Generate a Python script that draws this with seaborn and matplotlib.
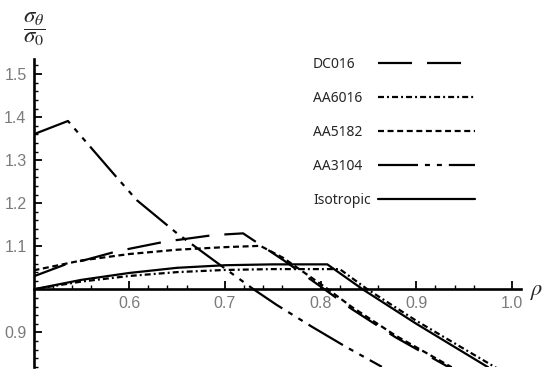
import numpy as np
import pandas as pd
import matplotlib
matplotlib.use("Agg")
import matplotlib.pyplot as plt
from matplotlib.lines import Line2D
from matplotlib.ticker import FixedLocator
import seaborn as sns

# ---------------- data ----------------
materials = ["DC016", "AA6016", "AA5182", "AA3104", "Isotropic"]

rho_dc016 = [0.5, 0.536, 0.552, 0.585, 0.602, 0.638, 0.655, 0.688, 0.719, 0.761, 0.806, 0.832, 0.878, 0.934]
sig_dc016 = [1.030, 1.060, 1.067, 1.087, 1.095, 1.111, 1.116, 1.126, 1.130, 1.068, 0.997, 0.955, 0.889, 0.819]

rho_aa6016 = [0.5, 0.55, 0.6, 0.65, 0.7, 0.75, 0.82, 0.849, 0.9, 0.984]
sig_aa6016 = [1.0, 1.018, 1.031, 1.040, 1.045, 1.047, 1.047, 1.0, 0.927, 0.817]

rho_aa5182 = [0.5, 0.55, 0.6, 0.65, 0.7, 0.737, 0.761, 0.806, 0.832, 0.878, 0.937]
sig_aa5182 = [1.044, 1.067, 1.082, 1.092, 1.098, 1.101, 1.073, 1.003, 0.960, 0.893, 0.819]

rho_aa3104 = [0.5, 0.536, 0.585, 0.608, 0.650, 0.688, 0.730, 0.754, 0.791, 0.826, 0.864]
sig_aa3104 = [1.360, 1.391, 1.265, 1.207, 1.130, 1.068, 1.0, 0.964, 0.913, 0.867, 0.820]

rho_iso = [0.5, 0.55, 0.6, 0.65, 0.7, 0.75, 0.807, 0.844, 0.9, 0.975]
sig_iso = [1.0, 1.022, 1.038, 1.050, 1.056, 1.058, 1.058, 1.0, 0.920, 0.819]

x_major = [0.6, 0.7, 0.8, 0.9, 1.0]
y_major = [0.9, 1.1, 1.2, 1.3, 1.4, 1.5]

series = {
    "DC016": (rho_dc016, sig_dc016),
    "AA6016": (rho_aa6016, sig_aa6016),
    "AA5182": (rho_aa5182, sig_aa5182),
    "AA3104": (rho_aa3104, sig_aa3104),
    "Isotropic": (rho_iso, sig_iso),
}
frames = []
for name in materials:
    r, s = series[name]
    frames.append(pd.DataFrame({"rho": r, "ratio": s, "material": name}))
df = pd.concat(frames, ignore_index=True)

# dash patterns in points (not scaled by linewidth)
dash_map = {
    "DC016": (24.5, 10.8),
    "AA6016": (4.3, 2.2, 1.4, 2.2),
    "AA5182": (4.3, 2.6),
    "AA3104": (28.8, 5.0, 3.6, 5.0, 3.6, 5.0),
    "Isotropic": "",
}

# ---------------- style ----------------
sns.set_style("white")
plt.rcParams["lines.scale_dashes"] = False
plt.rcParams["font.family"] = ["Liberation Sans", "DejaVu Sans"]
plt.rcParams["mathtext.fontset"] = "stix"

fig = plt.figure(figsize=(5.5, 3.78), dpi=100)
ax = fig.add_axes([33.5 / 550, 11 / 378, (521 - 33.5) / 550, (367 - 59) / 378])

LW = 1.6
sns.lineplot(data=df, x="rho", y="ratio", style="material", style_order=materials,
             dashes=dash_map, color="black", linewidth=LW, sort=False,
             estimator=None, legend=False, ax=ax)

ax.set_xlim(0.5, 1.0094)
ax.set_ylim(0.8196, 1.535)

# Mathematica-like axes crossing at (0.5, 1.0)
for side in ["top", "right"]:
    ax.spines[side].set_visible(False)
ax.spines["bottom"].set_position(("data", 1.0))
ax.spines["left"].set_position(("data", 0.5))
for side in ["bottom", "left"]:
    ax.spines[side].set_linewidth(1.9)
    ax.spines[side].set_color("black")

ax.xaxis.set_major_locator(FixedLocator(x_major))
ax.xaxis.set_minor_locator(FixedLocator([0.52 + 0.02 * i for i in range(25) if (i + 1) % 5 != 4]))
ax.yaxis.set_major_locator(FixedLocator(y_major))
ax.yaxis.set_minor_locator(FixedLocator([round(0.82 + 0.02 * i, 2) for i in range(36)
                                         if round(0.82 + 0.02 * i, 2) not in (0.9, 1.0, 1.1, 1.2, 1.3, 1.4, 1.5)]))
ax.set_xticklabels([f"{v:.1f}" for v in x_major])
ax.set_yticklabels([f"{v:.1f}" for v in y_major])
ax.tick_params(bottom=True, left=True, top=False, right=False, which="both")
ax.tick_params(axis="both", which="major", direction="in", length=5.5, width=1.3,
               color="black", labelsize=11.5, labelcolor="#7a7a7a")
ax.tick_params(axis="both", which="minor", direction="in", length=3, width=1.0, color="black")
ax.tick_params(axis="x", which="major", pad=5)
ax.tick_params(axis="y", which="major", pad=5)
ax.set_xlabel("")
ax.set_ylabel("")
ax.grid(False)

# axis labels
fig.text(34 / 550, 1 - 29 / 378, r"$\dfrac{\sigma_\theta}{\sigma_0}$", fontsize=16.5,
         ha="center", va="center")
fig.text(537 / 550, 1 - 292 / 378, r"$\rho$", fontsize=16, ha="center", va="center")

# legend: labels on the left, samples on the right
handles = [Line2D([], [], color="black", linewidth=LW,
                  linestyle="-" if dash_map[m] == "" else (0, dash_map[m])) for m in materials]
leg = ax.legend(handles, materials, loc="upper left",
                bbox_to_anchor=(313 / 550, 1 - 57 / 378), bbox_transform=fig.transFigure,
                frameon=False, markerfirst=False, handlelength=7.0, handletextpad=0.55,
                labelspacing=1.36, borderpad=0, borderaxespad=0,
                prop={"family": "Noto Sans", "size": 10})

# left-align the label column while keeping the samples aligned
fig.canvas.draw()
renderer = fig.canvas.get_renderer()
try:
    col = leg._legend_handle_box.get_children()[0]
    rows = col.get_children()
    widths = [row.get_children()[0].get_window_extent(renderer).width for row in rows]
    maxw = max(widths)
    for row, w in zip(rows, widths):
        row.sep = row.sep + (maxw - w) * 72.0 / fig.dpi
    col.align = "left"
except Exception:
    pass

fig.savefig("out.png", dpi=100)
